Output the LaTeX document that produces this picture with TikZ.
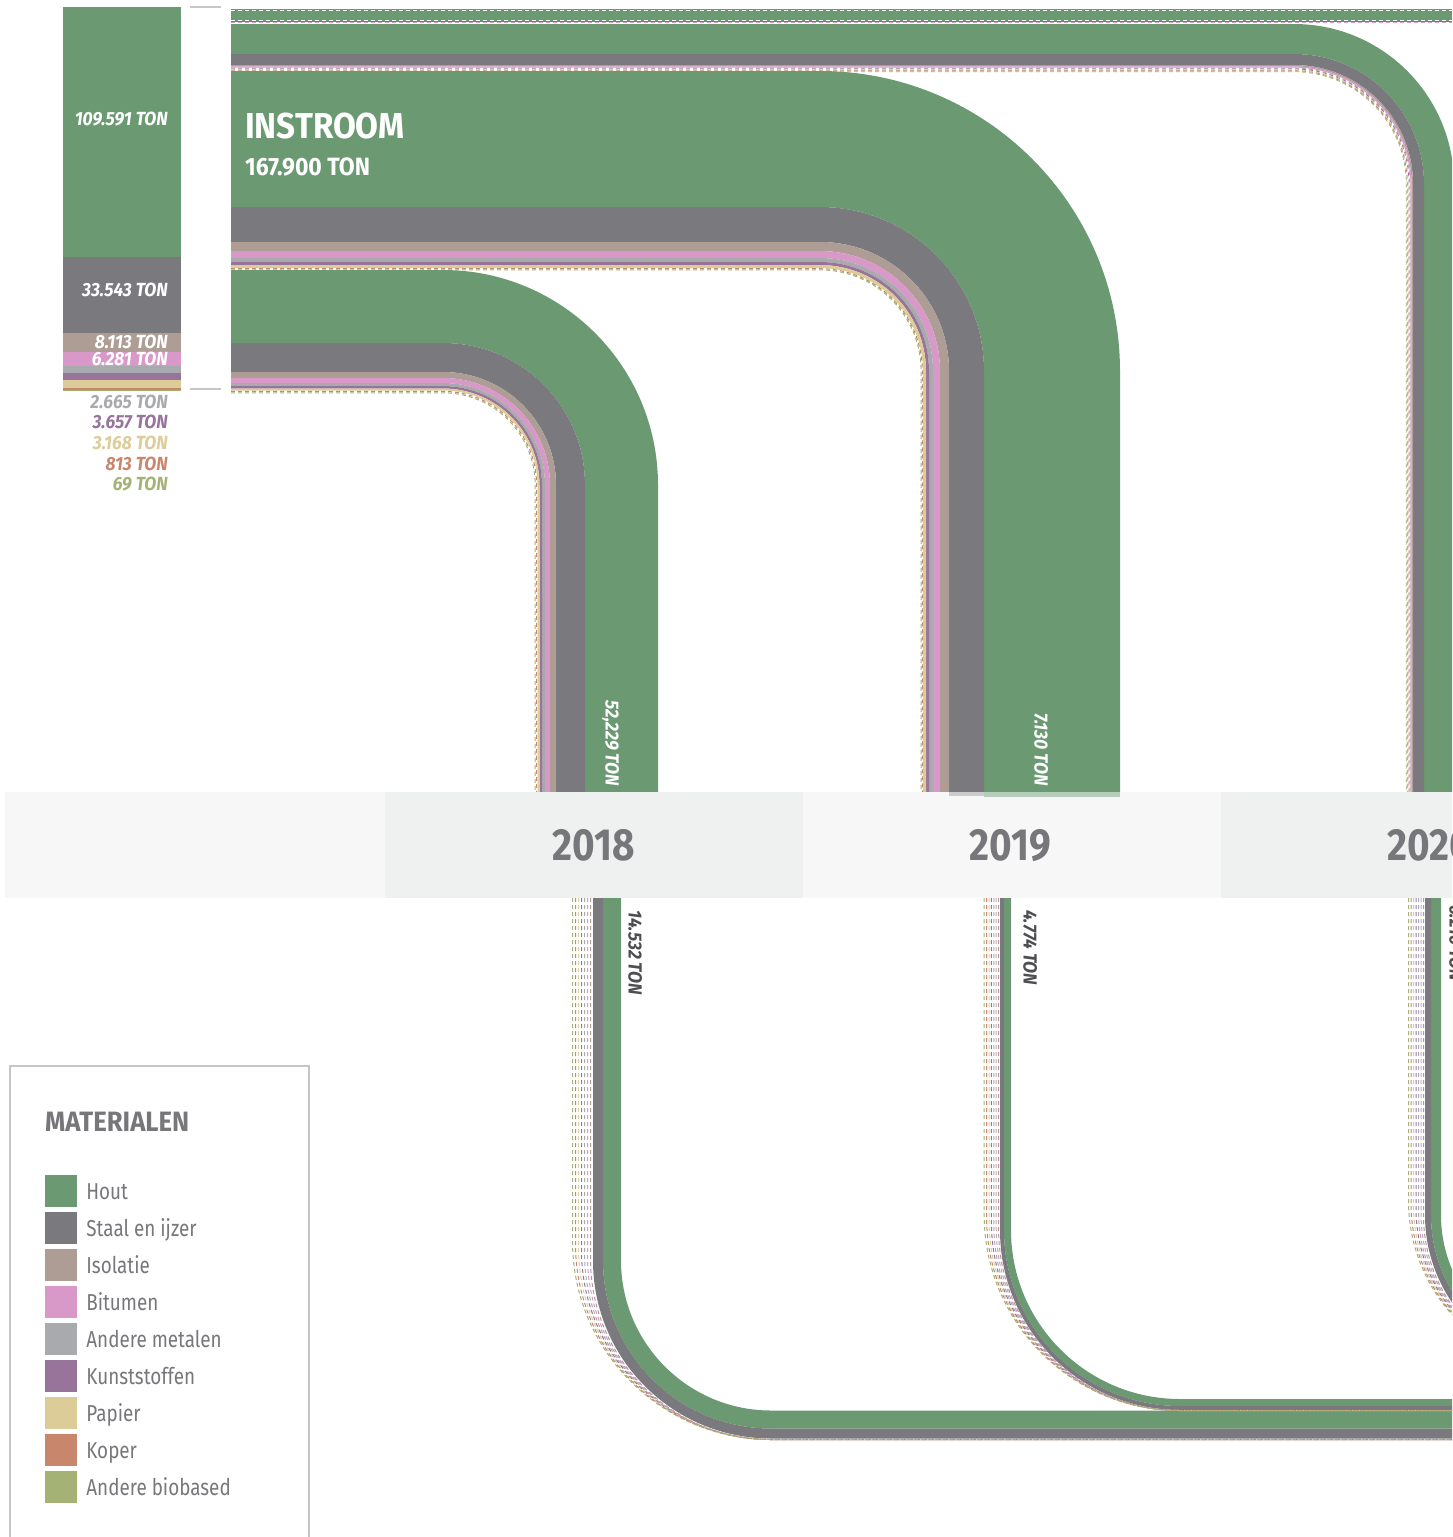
\documentclass[tikz,border=0pt]{standalone}
\usepackage{fontspec}
\setmainfont{Fira Sans}[FakeStretch=0.82]
\newfontfamily\breedfont{Fira Sans}[FakeStretch=0.92]
\newfontfamily\jaarfont{Fira Sans}[FakeStretch=0.86]
\usetikzlibrary{positioning}

\definecolor{hout}{HTML}{6B9A72}
\definecolor{staal}{HTML}{79797E}
\definecolor{isolatie}{HTML}{AD9D95}
\definecolor{bitumen}{HTML}{D898C8}
\definecolor{metalen}{HTML}{A9AAAD}
\definecolor{kunststof}{HTML}{98749B}
\definecolor{papier}{HTML}{DCCC97}
\definecolor{koper}{HTML}{C8876C}
\definecolor{biobased}{HTML}{A4B276}
\definecolor{tekstgrijs}{HTML}{77777B}
\definecolor{labelgrijs}{HTML}{4E4E52}
\definecolor{balklicht}{HTML}{F7F7F7}
\definecolor{balkdonker}{HTML}{EFF1F0}
\definecolor{kader}{HTML}{C6C6C6}

\begin{document}
\begin{tikzpicture}[x=1pt, y=-1pt,
    streep/.style={line width=1pt, dash pattern=on 4pt off 3pt},
    barlabel/.style={anchor=east, inner sep=0, text height=13pt, text depth=0pt,
      font=\breedfont\bfseries\itshape\fontsize{19}{19}\selectfont},
    draailabel/.style={rotate=-90, inner sep=0, text height=13pt, text depth=0pt,
      font=\breedfont\bfseries\itshape\fontsize{19}{19}\selectfont},
    jaar/.style={tekstgrijs, inner sep=0, text height=31pt, text depth=0pt,
      font=\jaarfont\bfseries\fontsize{45}{45}\selectfont},
    vakje/.style={minimum size=32pt, inner sep=0},
    lgtekst/.style={tekstgrijs, anchor=west, inner sep=0, text height=16pt, text depth=0pt,
      font=\fontsize{23}{23}\selectfont}]
\useasboundingbox (0,0) rectangle (1452,1537);
\clip (0,0) rectangle (1452,1537);

% bovenste stroom (loopt rechts door)
\fill[hout] (231,9) rectangle (1452,21);
\draw[white, streep, line width=0.8pt] (231,10.3) -- (1452,10.3);
\draw[white, streep, line width=0.8pt] (231,20.2) -- (1452,20.2);
\draw[staal, line width=1pt] (231,21.5) -- (1452,21.5);
\draw[bitumen, streep] (231,22.8) -- (1452,22.8);

% instroom 2020
\foreach \r/\w/\kl in {145/30/hout, 124.5/11/staal, 118.3/1.4/isolatie, 117/1.2/bitumen}
  \draw[line width=\w pt, \kl, rounded corners=\r pt] (231,184-\r) -- (1294+\r,184-\r) -- (1294+\r,792);
\foreach \r/\kl in {115.9/metalen, 115/kunststof, 114.1/papier, 113.2/koper, 112.3/biobased}
  \draw[streep, line width=0.8pt, \kl, rounded corners=\r pt] (231,184-\r) -- (1294+\r,184-\r) -- (1294+\r,792);

% instroom 2019
\foreach \r/\w/\kl in {232/136/hout, 146.5/35/staal, 124.5/9/isolatie, 116.5/7/bitumen,
    111/4/metalen, 107.5/3/kunststof, 104.5/3/papier}
  \draw[line width=\w pt, \kl, rounded corners=\r pt] (231,371-\r) -- (820+\r,371-\r) -- (820+\r,792);
\foreach \r/\kl in {102.3/koper, 101.1/biobased}
  \draw[streep, \kl, rounded corners=\r pt] (231,371-\r) -- (820+\r,371-\r) -- (820+\r,792);

% instroom 2018
\foreach \r/\w/\kl in {178.5/73/hout, 127.5/29/staal, 110/6/isolatie, 104.5/5/bitumen,
    100.5/3/metalen, 97.75/2.5/kunststof, 95.5/2/papier}
  \draw[line width=\w pt, \kl, rounded corners=\r pt] (231,485-\r) -- (443+\r,485-\r) -- (443+\r,792);
\foreach \r/\kl in {93.6/koper, 92.2/biobased}
  \draw[streep, \kl, rounded corners=\r pt] (231,485-\r) -- (443+\r,485-\r) -- (443+\r,792);

% uitstroom 2018
\foreach \r/\w/\kl in {159/18/hout, 173/10/staal}
  \draw[line width=\w pt, \kl, rounded corners=\r pt] (771-\r,898) -- (771-\r,1260.5+\r) -- (1460,1260.5+\r);
\foreach \xv/\kl [evaluate=\xv as \rr using 771-\xv] in {590.5/isolatie, 587.5/bitumen, 584.5/metalen,
    581.5/kunststof, 578.5/papier, 575.5/koper, 572.5/biobased}
  \draw[streep, \kl, rounded corners=\rr pt] (\xv,898) -- (\xv,1439.5) -- (1460,1439.5);

% uitstroom 2019
\foreach \r/\w/\kl in {172.5/7/hout, 178/4/staal}
  \draw[line width=\w pt, \kl, rounded corners=\r pt] (1180-\r,898) -- (1180-\r,1230+\r) -- (1460,1230+\r);
\foreach \xv/\kl [evaluate=\xv as \rr using 1180-\xv] in {998.6/isolatie, 996.2/bitumen, 993.8/metalen,
    991.4/kunststof, 989/papier, 986.6/koper, 984.2/biobased}
  \draw[streep, \kl, rounded corners=\rr pt] (\xv,898) -- (\xv,1410.5) -- (1460,1410.5);

% uitstroom 2020
\foreach \r/\w/\kl in {144/10/hout, 152/6/staal}
  \draw[line width=\w pt, \kl, rounded corners=\r pt] (1580-\r,898) -- (1580-\r,1215+\r) -- (1660,1215+\r);
\foreach \xv/\kl [evaluate=\xv as \rr using 1580-\xv] in {1423.5/isolatie, 1421/bitumen, 1418.5/metalen,
    1416/kunststof, 1413.5/papier, 1411/koper, 1408.5/biobased}
  \draw[streep, \kl, rounded corners=\rr pt] (\xv,898) -- (\xv,1372) -- (1660,1372);

% jaarbalk
\fill[balklicht] (5,792) rectangle (385,898);
\fill[balkdonker] (385,792) rectangle (803,898);
\fill[balklicht] (803,792) rectangle (1221,898);
\fill[balkdonker] (1221,792) rectangle (1639,898);
\fill[hout, opacity=0.45] (984,792) rectangle (1120,797);
\fill[staal, opacity=0.35] (949,792) rectangle (984,796);
\node[jaar] (j2018) at (594,845) {2018};
\node[jaar] (j2019) at (1010,845) {2019};
\node[jaar] (j2020) at (1430,845) {2020};

% staafdiagram links
\foreach \ya/\yb/\kl in {7/257/hout, 257/333/staal, 333/352/isolatie, 352/366/bitumen,
    366/373/metalen, 373/380/kunststof, 380/388/papier, 388/389.5/koper, 389.5/389.8/biobased}
  \fill[\kl] (63,\ya) rectangle (181,\yb);
\draw[kader, line width=1.5pt] (190,7) -- (221,7);
\draw[kader, line width=1.5pt] (190,389) -- (221,389);

\node[barlabel, white] (l-hout) at (168,119) {109.591 TON};
\node[barlabel, white] (l-staal) at (168,290) {33.543 TON};
\node[barlabel, white] (l-isolatie) at (168,342) {8.113 TON};
\node[barlabel, white] (l-bitumen) at (168,359) {6.281 TON};
\node[barlabel, metalen] (l-metalen) at (168,402) {2.665 TON};
\node[barlabel, kunststof] (l-kunststof) at (168,422) {3.657 TON};
\node[barlabel, papier] (l-papier) at (168,443) {3.168 TON};
\node[barlabel, koper] (l-koper) at (168,464) {813 TON};
\node[barlabel, biobased] (l-biobased) at (168,484) {69 TON};

\node[white, anchor=west, inner sep=0, text height=25pt, text depth=0pt,
  font=\breedfont\bfseries\fontsize{36}{36}\selectfont] (instroom) at (245,126) {INSTROOM};
\node[white, anchor=west, inner sep=0, text height=17pt, text depth=0pt,
  font=\breedfont\bfseries\fontsize{25}{25}\selectfont] (totaal) at (245,167) {167.900 TON};

% labels op de stromen
\node[draailabel, white, anchor=east] (in2018) at (612,786) {52,229 TON};
\node[draailabel, white, anchor=east] (in2019) at (1041,786) {7.130 TON};
\node[draailabel, labelgrijs, anchor=west] (uit2018) at (635,910) {14.532 TON};
\node[draailabel, labelgrijs, anchor=west] (uit2019) at (1030,910) {4.774 TON};
\node[draailabel, labelgrijs, anchor=west] (uit2020) at (1456,905) {6.216 TON};

% legenda
\draw[kader, line width=2pt] (10,1545) -- (10,1066) -- (309,1066) -- (309,1545);
\node[tekstgrijs, anchor=west, inner sep=0, text height=19.5pt, text depth=0pt,
  font=\breedfont\bfseries\fontsize{28}{28}\selectfont] (titel) at (45,1121.5) {MATERIALEN};
\foreach \i/\kl/\naam in {0/hout/Hout, 1/staal/Staal en ijzer, 2/isolatie/Isolatie,
    3/bitumen/Bitumen, 4/metalen/Andere metalen, 5/kunststof/Kunststoffen,
    6/papier/Papier, 7/koper/Koper, 8/biobased/Andere biobased} {
  \node[vakje, fill=\kl] (vak\i) at (61,1191+37*\i) {};
  \node[lgtekst, right=9pt of vak\i] (naam\i) {\naam};
}
\end{tikzpicture}
\end{document}
